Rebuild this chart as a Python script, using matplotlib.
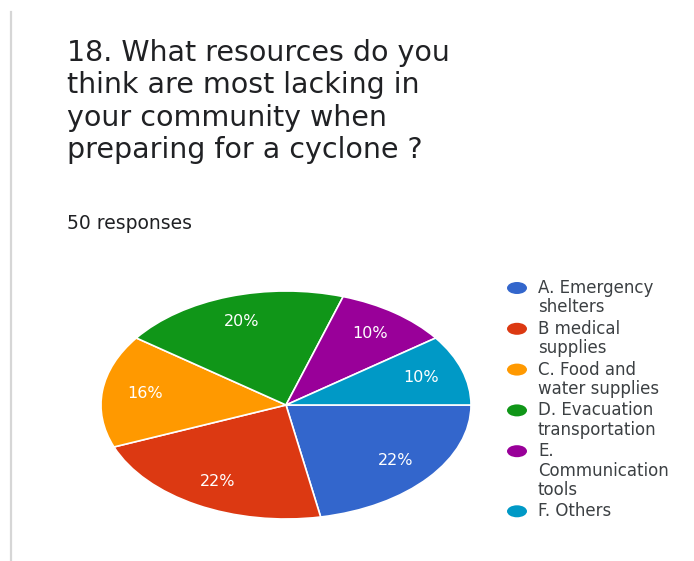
import matplotlib
matplotlib.use("Agg")
import matplotlib.pyplot as plt
from matplotlib.patches import Ellipse
from matplotlib.lines import Line2D

# ---- data -----------------------------------------------------------------
title_lines = [
    "18. What resources do you",
    "think are most lacking in",
    "your community when",
    "preparing for a cyclone ?",
]
subtitle = "50 responses"
categories = [
    "A. Emergency\nshelters",
    "B medical\nsupplies",
    "C. Food and\nwater supplies",
    "D. Evacuation\ntransportation",
    "E.\nCommunication\ntools",
    "F. Others",
]
percent = [22, 22, 16, 20, 10, 10]
colors = ["#3366CC", "#DC3912", "#FF9900", "#109618", "#990099", "#0099C6"]

# ---- figure ---------------------------------------------------------------
W, H, DPI = 694, 561, 100
plt.rcParams["font.family"] = ["DejaVu Sans"]
fig = plt.figure(figsize=(W / DPI, H / DPI), dpi=DPI)
fig.patch.set_facecolor("white")


def fx(x):
    return x / W


def fy(y):
    return 1 - y / H


# thin grey card border on the left
fig.add_artist(Line2D([fx(11), fx(11)], [fy(12), fy(561)],
                      color="#d6d6d6", lw=1.6))

# title, one line per row
title_base = 61
title_step = 32.4
for i, line in enumerate(title_lines):
    fig.text(fx(67), fy(title_base + i * title_step), line,
             fontsize=20.5, color="#202124", va="baseline", ha="left")

fig.text(fx(67), fy(229), subtitle, fontsize=13.5, color="#202124",
         va="baseline", ha="left")

# ---- pie (stretched horizontally like the card) ----------------------------
cx, cy, rx, ry = 286, 405, 185, 114
lim = 1.1
ax = fig.add_axes([fx(cx - lim * rx), fy(cy + lim * ry),
                   2 * lim * rx / W, 2 * lim * ry / H])
wedges, _, autotexts = ax.pie(
    percent,
    colors=colors,
    startangle=0,
    counterclock=False,
    autopct=lambda p: f"{p:.0f}%",
    pctdistance=0.77,
    wedgeprops=dict(edgecolor="white", linewidth=1.2),
    textprops=dict(color="white", fontsize=11.5),
)
ax.set_aspect("auto")
ax.set_xlim(-lim, lim)
ax.set_ylim(-lim, lim)
ax.axis("off")

# ---- legend ---------------------------------------------------------------
leg_x_marker = 517
leg_x_text = 538
line_h = 19.3
gap = 2.2
base = 293
for label, col in zip(categories, colors):
    rows = label.split("\n")
    fig.add_artist(Ellipse((fx(leg_x_marker), fy(base - 5)),
                           width=20 / W, height=12 / H,
                           facecolor=col, edgecolor="none"))
    for j, row in enumerate(rows):
        fig.text(fx(leg_x_text), fy(base + j * line_h), row,
                 fontsize=12, color="#3c4043", va="baseline", ha="left")
    base += len(rows) * line_h + gap

fig.savefig("out.png", dpi=DPI, facecolor="white")
